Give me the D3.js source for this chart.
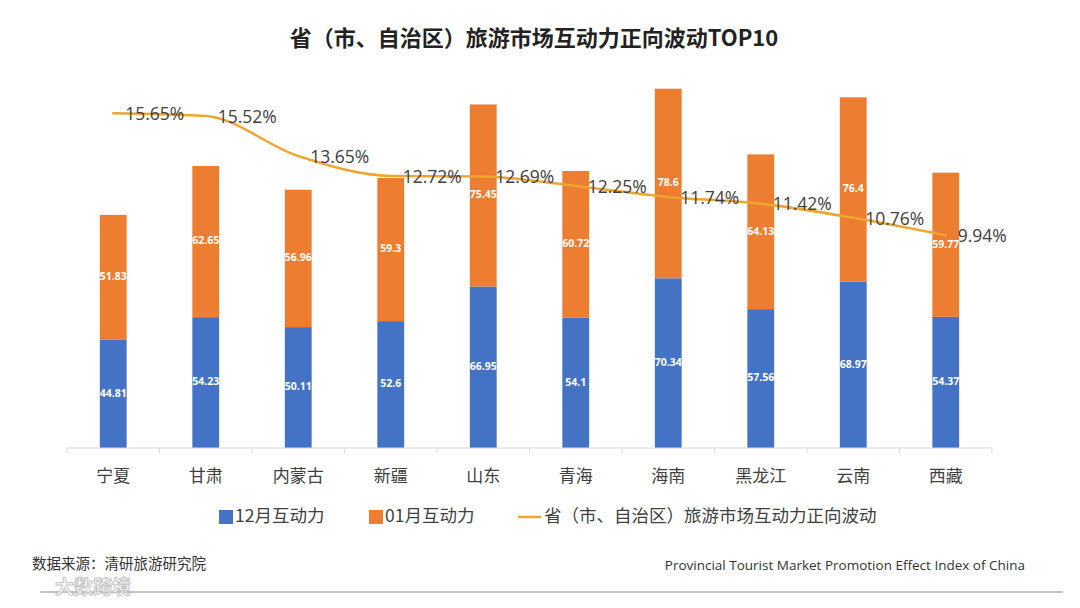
<!DOCTYPE html>
<html>
<head>
<meta charset="utf-8">
<script src="https://cdn.jsdelivr.net/npm/d3@7"></script>
<style>
  body { margin: 0; background: #fff; }
  svg { display: block; font-family: "Open Sans", "Noto Sans CJK SC", sans-serif; }
</style>
</head>
<body>
<svg id="chart" width="1080" height="608"></svg>
<script>
// data
const provinces = ['宁夏', '甘肃', '内蒙古', '新疆', '山东', '青海', '海南', '黑龙江', '云南', '西藏'];
const dec12 = [44.81, 54.23, 50.11, 52.6, 66.95, 54.1, 70.34, 57.56, 68.97, 54.37];
const jan01 = [51.83, 62.65, 56.96, 59.3, 75.45, 60.72, 78.6, 64.13, 76.4, 59.77];
const wave = [15.65, 15.52, 13.65, 12.72, 12.69, 12.25, 11.74, 11.42, 10.76, 9.94];
const seriesNames = ['12月互动力', '01月互动力', '省（市、自治区）旅游市场互动力正向波动'];

const blue = '#4472C4', orange = '#ED7D31', gold = '#EDA534';

const svg = d3.select('#chart');
const left = 67, right = 992, base = 448;

svg.append('rect').attr('width', 1080).attr('height', 608).attr('fill', '#fff');

let x = d3.scaleBand().domain(provinces).range([left, right]).paddingInner(0.71).paddingOuter(0.355);
let xEdge = d3.scaleBand().domain(provinces).range([left, right]);
let y = d3.scaleLinear().domain([0, 160]).range([base, 62]);
let y2 = d3.scaleLinear().domain([0, 18]).range([base, 63]);

// title
svg.append('text')
  .attr('x', 534).attr('y', 40)
  .attr('text-anchor', 'middle').attr('dominant-baseline', 'middle')
  .style('font-family', '"Noto Sans CJK SC", sans-serif')
  .style('font-size', '22px').style('font-weight', 'bold').attr('fill', '#222')
  .text('省（市、自治区）旅游市场互动力正向波动TOP10');

// stacked bars
const rows = provinces.map((p, i) => ({ name: p, dec: dec12[i], jan: jan01[i] }));
const stack = d3.stack().keys(['dec', 'jan'])(rows);
const colors = [blue, orange];

stack.forEach((layer, k) => {
  const g = svg.append('g');
  g.selectAll('rect').data(layer).enter().append('rect')
    .attr('x', d => x(d.data.name))
    .attr('width', x.bandwidth())
    .attr('y', d => y(d[1]))
    .attr('height', d => y(d[0]) - y(d[1]))
    .attr('fill', colors[k]);
  g.selectAll('text').data(layer).enter().append('text')
    .attr('x', d => x(d.data.name) + x.bandwidth() / 2)
    .attr('y', d => (y(d[0]) + y(d[1])) / 2)
    .attr('text-anchor', 'middle').attr('dominant-baseline', 'middle')
    .style('font-size', '10.5px').style('font-weight', 'bold').attr('fill', '#fff')
    .text(d => String(+(d[1] - d[0]).toFixed(2)));
});

// x axis
svg.append('line').attr('x1', left).attr('x2', right).attr('y1', base).attr('y2', base)
  .attr('stroke', '#D9D9D9').attr('stroke-width', 1);
svg.append('g').selectAll('line').data(provinces.concat(['_end'])).enter().append('line')
  .attr('x1', d => d === '_end' ? right : xEdge(d))
  .attr('x2', d => d === '_end' ? right : xEdge(d))
  .attr('y1', base).attr('y2', base + 5)
  .attr('stroke', '#D9D9D9');

const ax = svg.append('g').attr('transform', 'translate(0,' + base + ')')
  .call(d3.axisBottom(x).tickSize(0).tickPadding(22));
ax.select('.domain').remove();
ax.selectAll('text')
  .style('font-family', '"Noto Sans CJK SC", sans-serif')
  .style('font-size', '17px').attr('fill', '#404040');

// line
const line = d3.line()
  .x((d, i) => x(provinces[i]) + x.bandwidth() / 2)
  .y(d => y2(d))
  .curve(d3.curveMonotoneX);

svg.append('path').datum(wave)
  .attr('fill', 'none').attr('stroke', gold)
  .attr('stroke-width', 2.5).attr('stroke-linejoin', 'round').attr('stroke-linecap', 'round')
  .attr('d', line);

svg.append('g').selectAll('text').data(wave).enter().append('text')
  .attr('x', (d, i) => x(provinces[i]) + x.bandwidth() / 2 + 12)
  .attr('y', d => y2(d) + 2)
  .attr('dominant-baseline', 'middle')
  .style('font-size', '17.5px').attr('fill', '#404040')
  .text(d => d.toFixed(2) + '%');

// legend
const lg = svg.append('g').style('font-family', '"Noto Sans CJK SC", sans-serif').style('font-size', '17.5px');
const ly = 517;
lg.append('rect').attr('x', 219).attr('y', ly - 7).attr('width', 14).attr('height', 14).attr('fill', blue);
lg.append('text').attr('x', 235).attr('y', ly).attr('dominant-baseline', 'middle').attr('fill', '#404040').text(seriesNames[0]);
lg.append('rect').attr('x', 369).attr('y', ly - 7).attr('width', 14).attr('height', 14).attr('fill', orange);
lg.append('text').attr('x', 385).attr('y', ly).attr('dominant-baseline', 'middle').attr('fill', '#404040').text(seriesNames[1]);
lg.append('line').attr('x1', 518).attr('x2', 541).attr('y1', ly).attr('y2', ly).attr('stroke', gold).attr('stroke-width', 2.5);
lg.append('text').attr('x', 544).attr('y', ly).attr('dominant-baseline', 'middle').attr('fill', '#404040').text(seriesNames[2]);

// footer
svg.append('text').attr('x', 32).attr('y', 565).attr('dominant-baseline', 'middle')
  .style('font-family', '"Noto Sans CJK SC", sans-serif').style('font-size', '14.5px').attr('fill', '#333')
  .text('数据来源：清研旅游研究院');
svg.append('text').attr('x', 1025).attr('y', 566).attr('dominant-baseline', 'middle').attr('text-anchor', 'end')
  .style('font-size', '13.5px').attr('fill', '#333')
  .text('Provincial Tourist Market Promotion Effect Index of China');
svg.append('line').attr('x1', 40).attr('x2', 1063).attr('y1', 592).attr('y2', 592)
  .attr('stroke', '#8a8a8a').attr('stroke-width', 1.2);

// watermark
svg.append('text').attr('x', 55).attr('y', 589).attr('dominant-baseline', 'middle')
  .style('font-family', '"Noto Sans CJK SC", sans-serif').style('font-size', '19px').style('font-weight', 'bold')
  .attr('fill', '#fff').attr('stroke', '#bbb').attr('stroke-width', 1).attr('opacity', 0.85)
  .text('大数跨境');
</script>
</body>
</html>
